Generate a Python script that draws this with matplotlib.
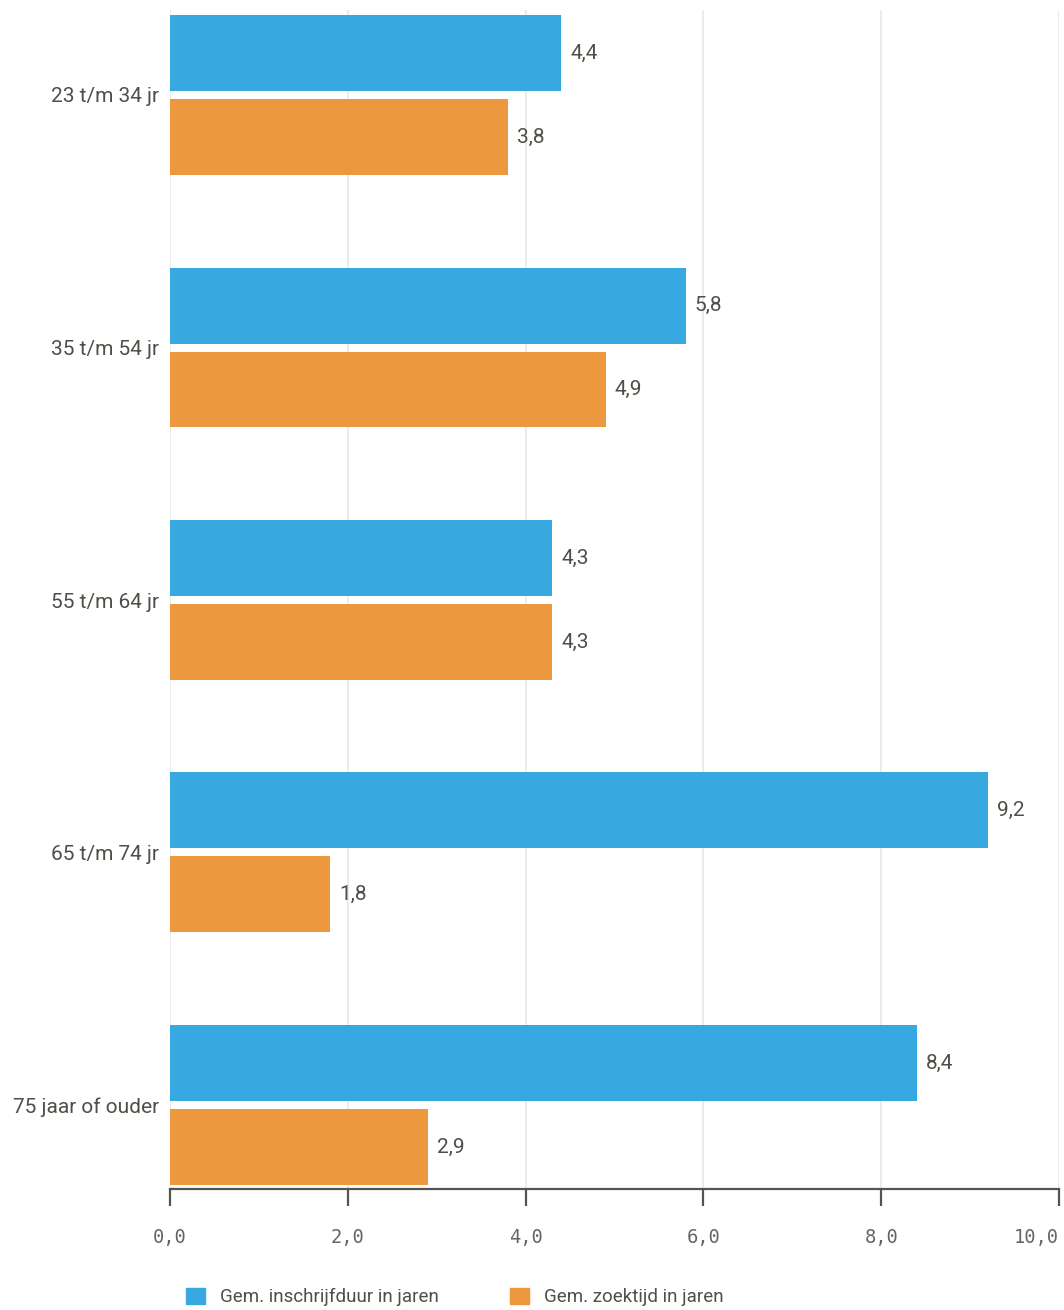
import matplotlib
matplotlib.use("Agg")
from matplotlib import pyplot as plt
from matplotlib.patches import Patch
from matplotlib.transforms import ScaledTranslation
import numpy as np

# data
categories = ["23 t/m 34 jr", "35 t/m 54 jr", "55 t/m 64 jr", "65 t/m 74 jr", "75 jaar of ouder"]
inschrijfduur = [4.4, 5.8, 4.3, 9.2, 8.4]
zoektijd = [3.8, 4.9, 4.3, 1.8, 2.9]
series_names = ["Gem. inschrijfduur in jaren", "Gem. zoektijd in jaren"]
xticks = [0, 2, 4, 6, 8, 10]

blue = "#38a9e0"
orange = "#ec983f"
text_col = "#4f4f48"
label_font = ["Roboto", "DejaVu Sans"]

fig = plt.figure(figsize=(10.64, 13.10), dpi=100)
ax = fig.add_axes([170 / 1064, 121 / 1310, 889 / 1064, 1179 / 1310])

y = np.arange(len(categories))
h = 76 / 252.5
off = 42 / 252.5
b1 = ax.barh(y - off, inschrijfduur, height=h, color=blue, zorder=3)
b2 = ax.barh(y + off, zoektijd, height=h, color=orange, zorder=3)

# value labels with a comma as decimal sign
for bars, vals in ((b1, inschrijfduur), (b2, zoektijd)):
    for bar, v in zip(bars, vals):
        ax.text(v + 0.1, bar.get_y() + bar.get_height() / 2, f"{v:.1f}".replace(".", ","),
                va="center", ha="left", fontsize=15, color=text_col, family=label_font)

ax.set_xlim(0, 10)
ax.set_ylim(len(categories) - 1 + 84 / 252.5, -85 / 252.5)
ax.set_xticks(xticks)
ax.set_xticklabels([f"{t:.1f}".replace(".", ",") for t in xticks],
                   family="DejaVu Sans Mono", fontsize=13.5, color="#666660")
# last label would be cut off at the right edge
ax.get_xticklabels()[-1].set_horizontalalignment("right")
ax.set_yticks(y)
ax.set_yticklabels(categories, family=label_font, fontsize=15, color=text_col)
# labels sit a little above the group centre
for lab in ax.get_yticklabels():
    lab.set_transform(lab.get_transform() + ScaledTranslation(0, 0.04, fig.dpi_scale_trans))
ax.tick_params(axis="y", length=0, pad=8)
ax.tick_params(axis="x", length=12, width=1.6, color="#555550", pad=16, direction="out")

ax.grid(axis="x", color="#e8e8e8", linewidth=1.2, zorder=0)
for s in ("top", "right", "left"):
    ax.spines[s].set_visible(False)
ax.spines["bottom"].set_color("#555550")
ax.spines["bottom"].set_linewidth(1.6)

handles = [Patch(color=blue, label=series_names[0]), Patch(color=orange, label=series_names[1])]
leg = fig.legend(handles=handles, loc="center left", bbox_to_anchor=(169 / 1064, 13 / 1310),
                 ncol=2, frameon=False, handlelength=1.0, handleheight=1.0,
                 columnspacing=3.8, handletextpad=0.8,
                 prop={"family": label_font, "size": 13.5})
for t in leg.get_texts():
    t.set_color(text_col)

fig.savefig("out.png", dpi=100)
